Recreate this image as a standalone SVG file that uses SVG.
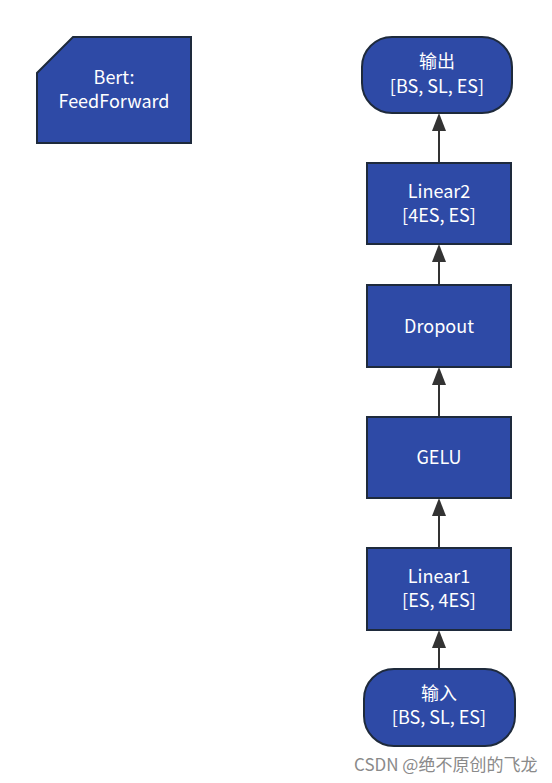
<svg xmlns="http://www.w3.org/2000/svg" width="552" height="783" viewBox="0 0 552 783">
<style>
.n{fill:#2e4aa6;stroke:#1e2a3c;stroke-width:2}
.t{fill:#ffffff;font-family:"Noto Sans CJK SC","Noto Sans",sans-serif;font-size:18px;text-anchor:middle}
.c{stroke:#333333;stroke-width:2;fill:none}
.a{fill:#333333}
.w{fill:#8a8a8a;font-family:"Noto Sans CJK SC","Noto Sans",sans-serif;font-size:17px}
</style>
<rect width="552" height="783" fill="#ffffff"/>
<g id="connectors">
<line class="c" x1="439" y1="669" x2="439" y2="640"/>
<line class="c" x1="439" y1="548" x2="439" y2="508"/>
<line class="c" x1="439" y1="417" x2="439" y2="377"/>
<line class="c" x1="439" y1="285" x2="439" y2="254"/>
<line class="c" x1="439" y1="163" x2="439" y2="123"/>
<path class="a" d="M432,648 L439,630 L446,648 z"/>
<path class="a" d="M432,516 L439,498 L446,516 z"/>
<path class="a" d="M432,385 L439,367 L446,385 z"/>
<path class="a" d="M432,262 L439,244 L446,262 z"/>
<path class="a" d="M432,131 L439,113 L446,131 z"/>
</g>
<g id="bert">
<path class="n" d="M73,37 L191,37 L191,143 L37,143 L37,73 Z"/>
<text class="t" x="114" y="84">Bert:</text>
<text class="t" x="114" y="108">FeedForward</text>
</g>
<g id="output">
<rect class="n" x="362" y="37" width="150" height="76" rx="30" ry="30"/>
<text class="t" x="437" y="68">输出</text>
<text class="t" x="437" y="93">[BS, SL, ES]</text>
</g>
<g id="linear2">
<rect class="n" x="367" y="163" width="144" height="81"/>
<text class="t" x="439" y="198">Linear2</text>
<text class="t" x="439" y="222">[4ES, ES]</text>
</g>
<g id="dropout">
<rect class="n" x="367" y="285" width="144" height="82"/>
<text class="t" x="439" y="333">Dropout</text>
</g>
<g id="gelu">
<rect class="n" x="367" y="417" width="144" height="81"/>
<text class="t" x="439" y="464">GELU</text>
</g>
<g id="linear1">
<rect class="n" x="367" y="548" width="144" height="82"/>
<text class="t" x="439" y="583">Linear1</text>
<text class="t" x="439" y="607">[ES, 4ES]</text>
</g>
<g id="input">
<rect class="n" x="364" y="669" width="151" height="77" rx="30" ry="30"/>
<text class="t" x="439" y="700">输入</text>
<text class="t" x="439" y="724">[BS, SL, ES]</text>
</g>
<text class="w" x="354" y="771">CSDN @绝不原创的飞龙</text>
</svg>
